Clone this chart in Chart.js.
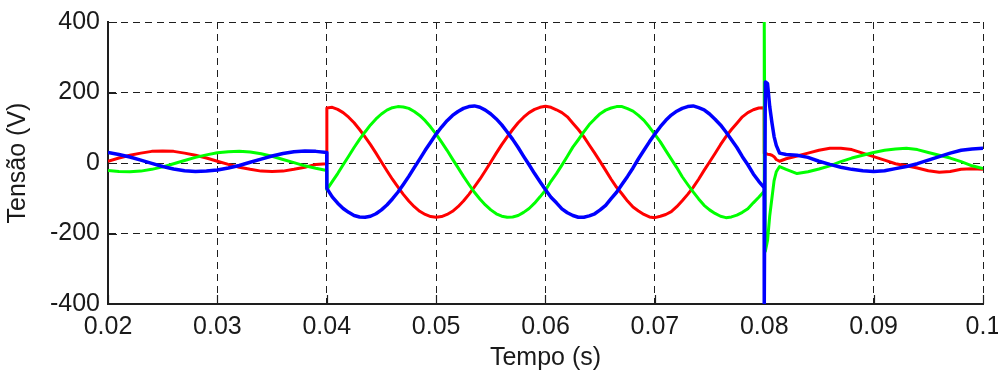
<!DOCTYPE html>
<html>
<head>
<meta charset="utf-8">
<script src="https://cdn.jsdelivr.net/npm/chart.js@4"></script>
<style>
  html, body { margin: 0; padding: 0; background: #ffffff; }
  #wrap { width: 998px; height: 380px; }
</style>
</head>
<body>
<div id="wrap"><canvas id="grafico" width="998" height="380"></canvas></div>
<script>
// Tempo (s): pré-falta, falta (0,04–0,08 s), transitório e pós-falta
const tempo = [
  0.020, 0.021, 0.022, 0.023, 0.024, 0.025, 0.026, 0.027, 0.028, 0.029,
  0.030, 0.031, 0.032, 0.033, 0.034, 0.035, 0.036, 0.037, 0.038, 0.039, 0.040,
  0.04001, 0.0405, 0.041, 0.0415, 0.042, 0.0425, 0.043, 0.0435, 0.044, 0.0445,
  0.045, 0.0455, 0.046, 0.0465, 0.047, 0.0475, 0.048, 0.0485, 0.049, 0.0495,
  0.050, 0.0505, 0.051, 0.0515, 0.052, 0.0525, 0.053, 0.0535, 0.054, 0.0545,
  0.055, 0.0555, 0.056, 0.0565, 0.057, 0.0575, 0.058, 0.0585, 0.059, 0.0595,
  0.060, 0.0605, 0.061, 0.0615, 0.062, 0.0625, 0.063, 0.0635, 0.064, 0.0645,
  0.065, 0.0655, 0.066, 0.0665, 0.067, 0.0675, 0.068, 0.0685, 0.069, 0.0695,
  0.070, 0.0705, 0.071, 0.0715, 0.072, 0.0725, 0.073, 0.0735, 0.074, 0.0745,
  0.075, 0.0755, 0.076, 0.0765, 0.077, 0.0775, 0.078, 0.0785, 0.079, 0.0795,
  0.07999,
  0.0800, 0.0801, 0.0803, 0.0805, 0.0807, 0.0809, 0.0811, 0.0814,
  0.082, 0.083, 0.084, 0.085, 0.086, 0.087, 0.088, 0.089, 0.090, 0.091,
  0.092, 0.093, 0.094, 0.095, 0.096, 0.097, 0.098, 0.099, 0.100
];

// Tensão da fase A (V) — vermelho
const faseA = [
  5, 14, 22, 28, 33, 34, 33, 28, 22, 14, 5, -4, -12, -18, -23, -24, -23, -18, -12, -4, -2,
  156, 158, 152, 143, 130, 114, 95, 74, 52, 28, 3, -22, -46, -68, -89, -108, -124, -137, -146, -152,
  -154, -152, -146, -137, -124, -108, -89, -68, -46, -22, 3, 28, 52, 74, 95, 114, 130, 143, 152, 158,
  161, 158, 151, 143, 131, 113, 95, 75, 51, 28, 4, -21, -46, -69, -88, -108, -125, -136, -146, -153,
  -155, -151, -146, -138, -124, -107, -89, -69, -46, -21, 3, 27, 52, 75, 95, 113, 131, 143, 151, 156,
  157,
  27, 27, 25, 24, 22, 18, 10, 5,
  12, 20, 28, 36, 42, 42, 38, 28, 18, 8, -2, -8, -14, -22, -26, -24, -18, -16, -18
];

// Tensão da fase B (V) — verde
const faseB = [
  -21, -24, -25, -23, -18, -11, -2, 7, 16, 23, 29, 32, 33, 31, 26, 19, 10, 1, -8, -15, -21,
  -76, -53, -30, -5, 19, 44, 67, 88, 108, 125, 139, 150, 157, 160, 159, 155, 146, 135, 120, 102,
  82, 59, 36, 11, -13, -38, -61, -83, -102, -119, -133, -144, -151, -154, -153, -149, -140, -129, -114, -96,
  -77, -52, -30, -6, 19, 45, 66, 88, 109, 125, 140, 150, 156, 160, 160, 154, 147, 135, 121, 102,
  81, 60, 35, 11, -13, -39, -61, -82, -102, -120, -133, -143, -151, -155, -153, -148, -140, -130, -113, -97,
  -80,
  400, -250, -220, -150, -100, -50, -25, -10,
  -18, -30, -25, -17, -8, 4, 14, 22, 30, 36, 40, 42, 38, 30, 22, 14, 4, -8, -16
];

// Tensão da fase C (V) — azul
const faseC = [
  30, 24, 17, 8, -1, -10, -17, -22, -24, -23, -20, -14, -7, 2, 11, 20, 27, 32, 34, 33, 30,
  -72, -96, -114, -129, -140, -149, -153, -154, -151, -144, -133, -119, -102, -83, -61, -38, -13, 11, 36, 59,
  82, 102, 120, 135, 146, 155, 160, 162, 158, 150, 139, 125, 108, 88, 67, 44, 19, -5, -30, -53,
  -76, -97, -113, -130, -141, -149, -154, -154, -150, -144, -133, -120, -101, -83, -60, -38, -14, 12, 36, 60,
  82, 103, 121, 136, 147, 155, 160, 162, 157, 151, 139, 124, 108, 88, 66, 44, 18, -5, -31, -52,
  -70,
  -400, 230, 225, 160, 115, 75, 50, 28,
  24, 22, 16, 5, -4, -12, -18, -22, -24, -22, -16, -10, -2, 8, 18, 28, 36, 40, 42
];

// Marcas e rótulos dos eixos
const marcasX = [0.02, 0.03, 0.04, 0.05, 0.06, 0.07, 0.08, 0.09, 0.1];
const rotulosX = ['0.02', '0.03', '0.04', '0.05', '0.06', '0.07', '0.08', '0.09', '0.1'];
const marcasY = [-400, -200, 0, 200, 400];
const rotulosY = ['-400', '-200', '0', '200', '400'];

const pontos = serie => tempo.map((t, i) => ({ x: t, y: serie[i] }));

const FONTE = { family: "'Liberation Sans', Arial, sans-serif", size: 25 };
const COR_TEXTO = '#1a1a1a';
const COR_GRADE = '#1e1e1e';
const TAM_MARCA = 9;

// Marcas internas nos eixos inferior e esquerdo
const marcasInternas = {
  id: 'marcasInternas',
  beforeDatasetsDraw(chart) {
    const { ctx, chartArea: a, scales: { x, y } } = chart;
    ctx.save();
    ctx.strokeStyle = COR_GRADE;
    ctx.lineWidth = 1.2;
    ctx.beginPath();
    x.ticks.forEach((t, i) => {
      const px = Math.round(x.getPixelForTick(i)) + 0.5;
      ctx.moveTo(px, a.bottom);
      ctx.lineTo(px, a.bottom - TAM_MARCA);
    });
    y.ticks.forEach((t, i) => {
      const py = Math.round(y.getPixelForTick(i)) + 0.5;
      ctx.moveTo(a.left, py);
      ctx.lineTo(a.left + TAM_MARCA, py);
    });
    ctx.stroke();
    ctx.restore();
  }
};

new Chart(document.getElementById('grafico'), {
  type: 'line',
  data: {
    datasets: [
      { label: 'Va', data: pontos(faseA), borderColor: '#ff0000', borderWidth: 3, order: 2 },
      { label: 'Vb', data: pontos(faseB), borderColor: '#00ff00', borderWidth: 3, order: 1 },
      { label: 'Vc', data: pontos(faseC), borderColor: '#0000ff', borderWidth: 3.5, order: 0 }
    ]
  },
  options: {
    responsive: false,
    animation: false,
    events: [],
    elements: {
      point: { radius: 0 },
      line: { tension: 0, borderCapStyle: 'butt', borderJoinStyle: 'round' }
    },
    layout: { padding: { left: 0, right: 15, top: 22, bottom: 0 } },
    plugins: { legend: { display: false }, tooltip: { enabled: false } },
    scales: {
      x: {
        type: 'linear',
        min: 0.02,
        max: 0.1,
        afterBuildTicks: s => { s.ticks = marcasX.map(v => ({ value: v })); },
        afterFit: s => { s.height = 76; s.paddingLeft = 0; s.paddingRight = 0; },
        grid: { color: COR_GRADE, lineWidth: 1, drawTicks: false },
        border: { display: true, color: COR_GRADE, width: 2, dash: [7, 5] },
        ticks: {
          padding: 8,
          maxRotation: 0,
          autoSkip: false,
          color: COR_TEXTO,
          font: FONTE,
          callback: (v, i) => rotulosX[i]
        },
        title: {
          display: true,
          text: 'Tempo (s)',
          color: COR_TEXTO,
          font: FONTE,
          padding: { top: 0, bottom: 7 }
        }
      },
      y: {
        min: -400,
        max: 400,
        afterBuildTicks: s => { s.ticks = marcasY.map(v => ({ value: v })); },
        afterFit: s => { s.width = 108; s.paddingTop = 0; s.paddingBottom = 0; },
        grid: { color: COR_GRADE, lineWidth: 1, drawTicks: false },
        border: { display: true, color: COR_GRADE, width: 2, dash: [7, 5] },
        ticks: {
          padding: 8,
          autoSkip: false,
          color: COR_TEXTO,
          font: FONTE,
          callback: (v, i) => rotulosY[i]
        },
        title: {
          display: true,
          text: 'Tensão (V)',
          color: COR_TEXTO,
          font: FONTE,
          padding: { top: 3, bottom: 0 }
        }
      }
    }
  },
  plugins: [marcasInternas]
});
</script>
</body>
</html>
